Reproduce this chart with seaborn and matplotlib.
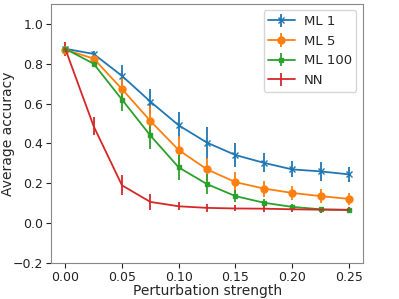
import numpy as np
import pandas as pd
import matplotlib
matplotlib.use("Agg")
import matplotlib.pyplot as plt
import seaborn as sns

strength = [0.0, 0.025, 0.05, 0.075, 0.1, 0.125, 0.15, 0.175, 0.2, 0.225, 0.25]

ml1 = [0.875, 0.849, 0.739, 0.61, 0.491, 0.404, 0.342, 0.303, 0.27, 0.26, 0.245]
ml1_err = [0.01, 0.015, 0.055, 0.063, 0.067, 0.08, 0.058, 0.048, 0.04, 0.048, 0.038]

ml5 = [0.87, 0.826, 0.673, 0.513, 0.367, 0.27, 0.206, 0.174, 0.152, 0.136, 0.122]
ml5_err = [0.01, 0.015, 0.058, 0.073, 0.07, 0.055, 0.052, 0.04, 0.033, 0.036, 0.03]

ml100 = [0.875, 0.80, 0.62, 0.44, 0.28, 0.196, 0.136, 0.103, 0.082, 0.07, 0.067]
ml100_err = [0.01, 0.015, 0.058, 0.07, 0.063, 0.05, 0.03, 0.02, 0.012, 0.01, 0.01]

nn = [0.875, 0.487, 0.19, 0.107, 0.085, 0.077, 0.074, 0.073, 0.07, 0.068, 0.067]
nn_err = [0.035, 0.045, 0.05, 0.04, 0.02, 0.02, 0.015, 0.015, 0.015, 0.015, 0.012]

series = [("ML 1", ml1, ml1_err, "x"),
          ("ML 5", ml5, ml5_err, "o"),
          ("ML 100", ml100, ml100_err, "s"),
          ("NN", nn, nn_err, "")]

sns.set_style("ticks")
plt.rcParams["font.family"] = ["DejaVu Sans"]
colors = sns.color_palette("tab10")
colors = [colors[0], colors[1], colors[2], colors[3]]

fig, ax = plt.subplots(figsize=(3.99, 2.99), dpi=100)
fig.subplots_adjust(left=0.128, right=0.91, top=0.987, bottom=0.12)

for (label, vals, err, mk), c in zip(series, colors):
    ax.errorbar(strength, vals, yerr=err, label=label, color=c, marker=mk if mk else None,
                markersize=5 if mk != "s" else 3.5, linewidth=1.3, elinewidth=1.3, capsize=0)

ax.set_ylim(-0.2, 1.1)
ax.set_xlim(-0.0125, 0.2625)
ax.set_xticks([0.0, 0.05, 0.1, 0.15, 0.2, 0.25])
ax.set_yticks([-0.2, 0.0, 0.2, 0.4, 0.6, 0.8, 1.0])
ax.tick_params(labelsize=9, colors="#222222", pad=2)
for s in ax.spines.values():
    s.set_color("#888888")
ax.set_xlabel("Perturbation strength", fontsize=10, labelpad=0)
ax.set_ylabel("Average accuracy", fontsize=10)
ax.yaxis.set_label_coords(-0.115, 0.5)
ax.legend(loc="upper right", fontsize=9.5, handlelength=2.0, handletextpad=0.7,
          borderaxespad=0.5, borderpad=0.35)

fig.savefig("out.png", dpi=100)
